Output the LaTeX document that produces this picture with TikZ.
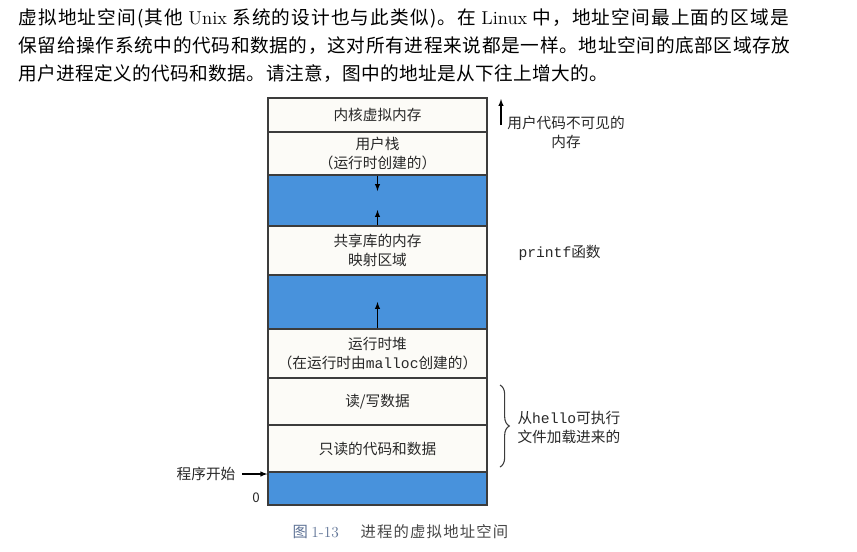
\documentclass[tikz,border=0pt]{standalone}
\usepackage{fontspec}
\setmonofont{Liberation Mono}
\newfontfamily\cjk{Noto Sans CJK SC}
\newfontfamily\cjkwider[LetterSpace=6]{Noto Sans CJK SC}
\newfontfamily\cjkwide[LetterSpace=3.5]{Noto Sans CJK SC}
\newfontfamily\cjkmid[LetterSpace=2]{Noto Sans CJK SC}
\usetikzlibrary{decorations.pathreplacing}

\definecolor{boxline}{RGB}{60,60,60}
\definecolor{boxbg}{RGB}{252,251,247}
\definecolor{heapblue}{RGB}{72,146,220}
\definecolor{txt}{RGB}{40,40,40}
\definecolor{capblue}{RGB}{95,115,150}

\tikzset{every picture/.style={line width=0.75pt}}
\tikzset{
	region/.style={draw=boxline, line width=0.9pt, fill=boxbg, minimum width=164.25pt, inner sep=0pt, align=center, text=txt, font=\cjk\fontsize{11}{14.25}\selectfont},
	blank/.style={region, fill=heapblue},
	note/.style={inner sep=0pt, text=txt, font=\cjk\fontsize{11}{14.25}\selectfont},
	bodyline/.style={anchor=west, inner sep=0pt, text=black, font=\fontsize{14}{18}\selectfont},
	pointer/.style={draw=black, line width=0.8pt, -latex}
}

\begin{document}
\begin{tikzpicture}[x=0.75pt,y=0.75pt,yscale=-1,xscale=1]
	\useasboundingbox[fill=white] (0,0) rectangle (857,551);

	% Text Node
	\draw (18,18) node [bodyline] (line1) {\cjkwider 虚拟地址空间(其他 {\rmfamily Unix} 系统的设计也与此类似)。在 {\rmfamily Linux} 中，地址空间最上面的区域是};
	% Text Node
	\draw (18,46) node [bodyline] (line2) {\cjkwide 保留给操作系统中的代码和数据的，这对所有进程来说都是一样。地址空间的底部区域存放};
	% Text Node
	\draw (18,74) node [bodyline] (line3) {\cjkmid 用户进程定义的代码和数据。请注意，图中的地址是从下往上增大的。};

	%Shape: Rectangle
	\node [region, minimum height=25.5pt] (kern) at (377.5,115) {内核虚拟内存};
	%Shape: Rectangle
	\node [region, minimum height=32.25pt] (stack) at (377.5,153.5) {用户栈\\（运行时创建的）};
	%Shape: Rectangle
	\node [blank, minimum height=38.25pt] (gapa) at (377.5,200.5) {};
	%Shape: Rectangle
	\node [region, minimum height=36.75pt] (shlib) at (377.5,250.5) {共享库的内存\\映射区域};
	%Shape: Rectangle
	\node [blank, minimum height=40.5pt] (gapb) at (377.5,302) {};
	%Shape: Rectangle
	\node [region, minimum height=36.75pt] (heap) at (377.5,353.5) {运行时堆\\（在运行时由\texttt{malloc}创建的）};
	%Shape: Rectangle
	\node [region, minimum height=35.25pt] (rwdata) at (377.5,401.5) {读/写数据};
	%Shape: Rectangle
	\node [region, minimum height=35.25pt] (rodata) at (377.5,448.5) {只读的代码和数据};
	%Shape: Rectangle
	\node [blank, minimum height=24.75pt] (gapc) at (377.5,488.5) {};

	%Straight Lines
	\coordinate (stacktip) at (377.5,191);
	\draw [pointer] (stack.south) -- (stacktip);
	%Straight Lines
	\coordinate (shlibtip) at (377.5,210);
	\draw [pointer] (shlib.north) -- (shlibtip);
	%Straight Lines
	\coordinate (heaptip) at (377.5,302);
	\draw [pointer] (heap.north) -- (heaptip);

	%Straight Lines
	\coordinate (hidefoot) at (501,125);
	\coordinate (hidetip) at (501,99);
	\draw [pointer] (hidefoot) -- (hidetip);
	% Text Node
	\draw (566,132.5) node [note, align=center] (hidden) {用户代码不可见的\\内存};

	% Text Node
	\draw (518,253) node [note, anchor=west] (printf) {\texttt{printf}函数};

	%Curve Lines
	\coordinate (bracetop) at (500,385);
	\coordinate (bracebot) at (500,467);
	\draw [boxline, line width=0.8pt, decorate, decoration={brace, amplitude=7pt}] (bracetop) -- (bracebot);
	% Text Node
	\draw (517,427) node [note, anchor=west, align=left] (loaded) {从\texttt{hello}可执行\\文件加载进来的};

	% Text Node
	\draw (206,474) node [note] (start) {程序开始};
	\draw [pointer] (start.east) ++(6,0) -- (start.east -| gapc.west);
	% Text Node
	\draw (256,498) node [note, font=\cjk\fontsize{10}{12}\selectfont] (zero) {0};

	% Text Node
	\draw (292,532) node [anchor=west, inner sep=0pt, text=capblue, font=\fontsize{11.5}{13}\selectfont] (fignum) {\cjk 图 {\rmfamily 1-13}};
	% Text Node
	\draw (360,532) node [anchor=west, inner sep=0pt, text=txt!85, font=\fontsize{11.5}{13}\selectfont] (figcap) {\cjk\addfontfeature{LetterSpace=8} 进程的虚拟地址空间};

\end{tikzpicture}
\end{document}
